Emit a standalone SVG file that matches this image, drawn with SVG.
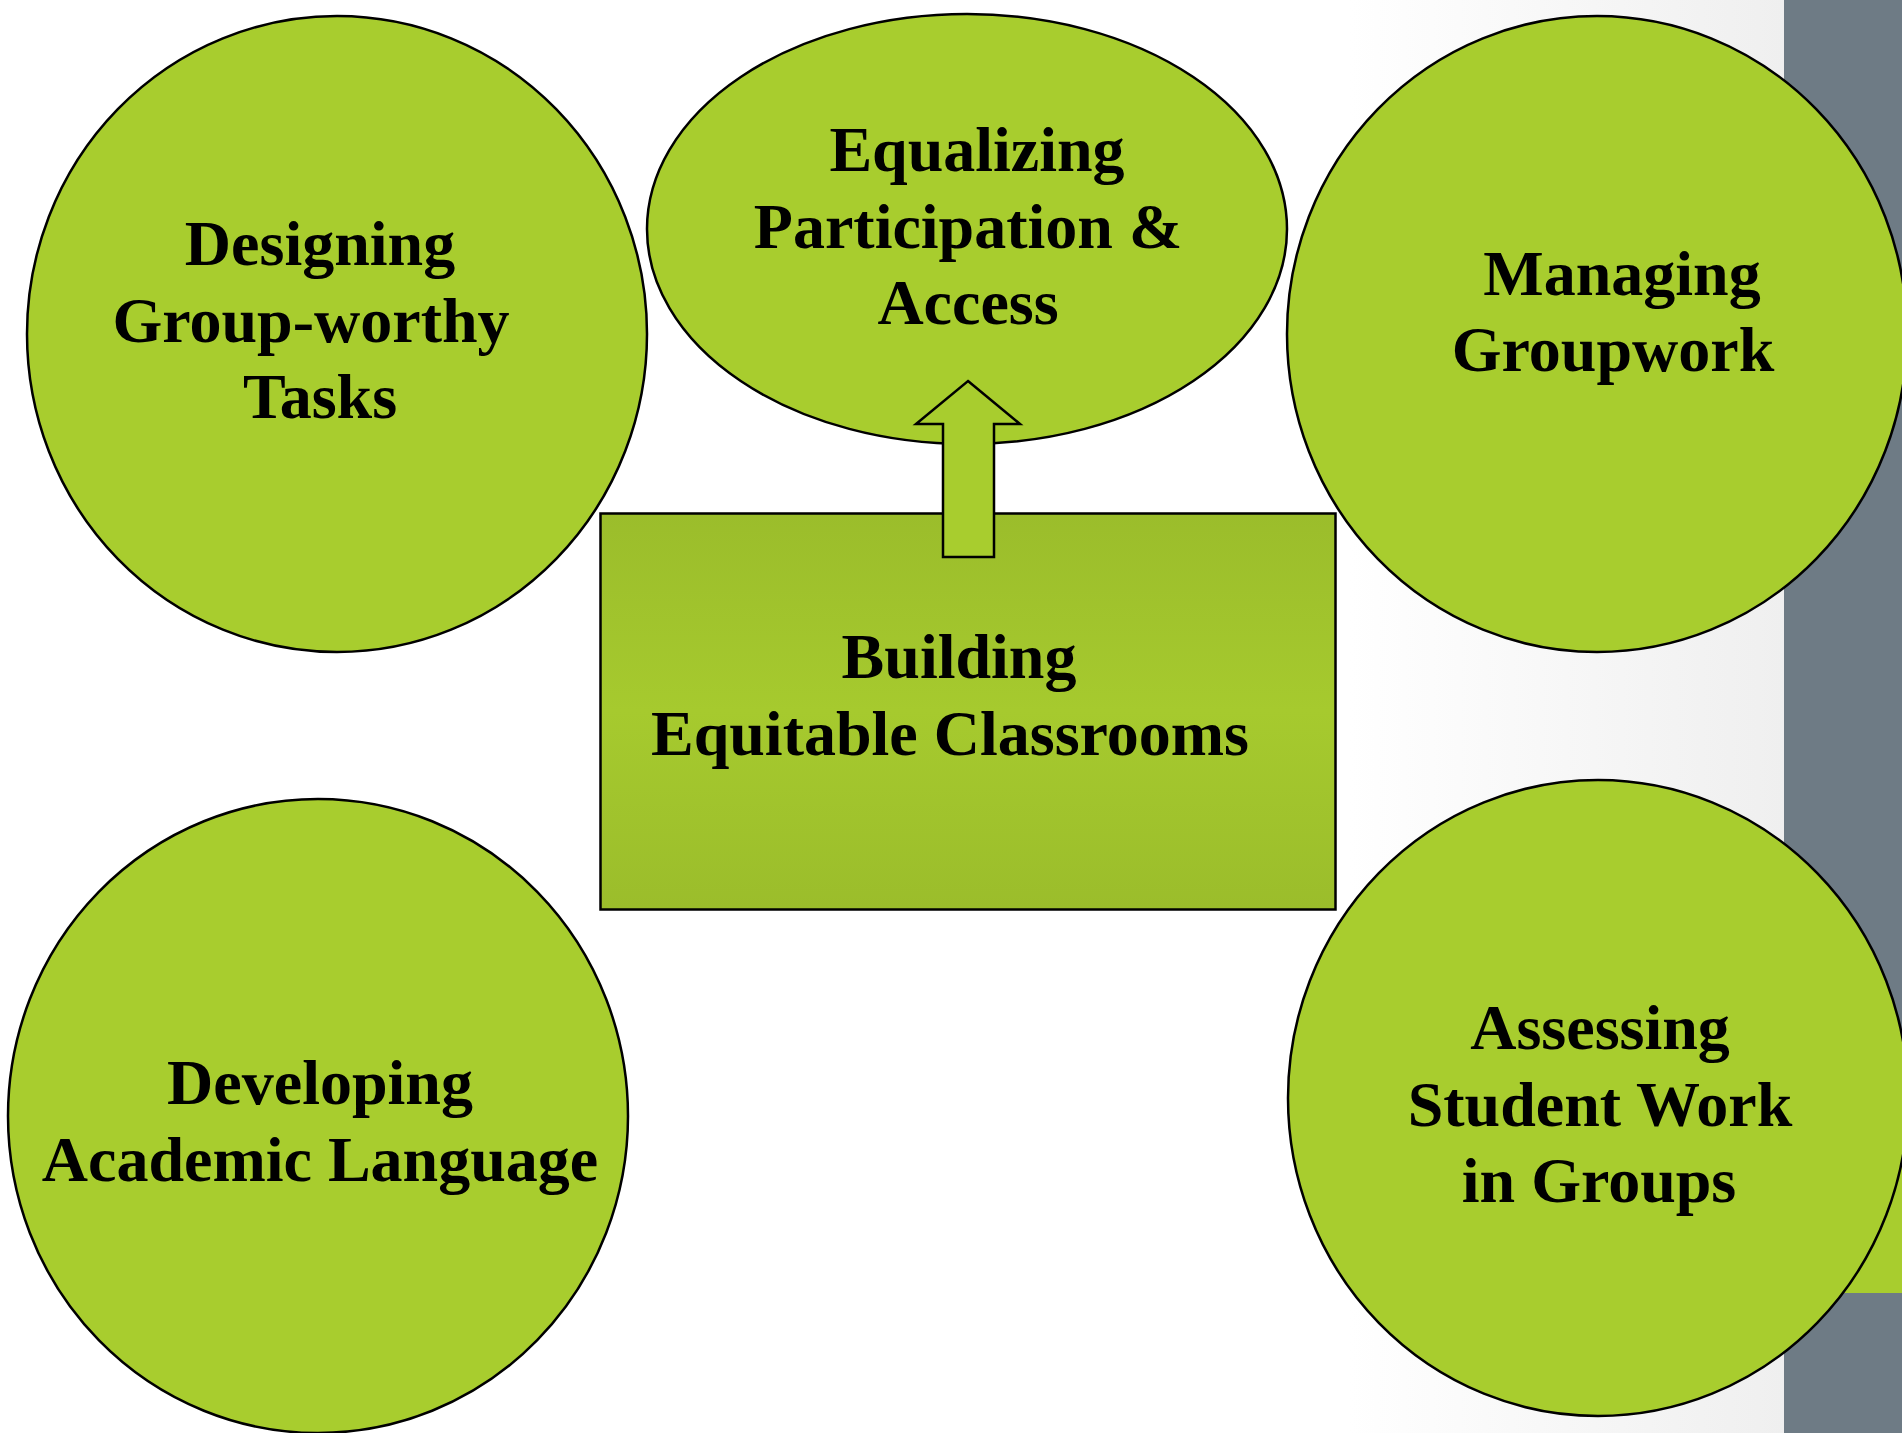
<svg xmlns="http://www.w3.org/2000/svg" width="1902" height="1433" viewBox="0 0 1902 1433">
<defs>
<style>
.node{fill:#a8cd2e;stroke:#000;stroke-width:2.5}
.lbl{font-family:"Liberation Serif","Times New Roman",serif;font-weight:bold;font-size:64px;fill:#000;text-anchor:middle}
</style>
<linearGradient id="bg" x1="1350" y1="0" x2="1784" y2="0" gradientUnits="userSpaceOnUse">
<stop offset="0" stop-color="#ffffff"/>
<stop offset="1" stop-color="#efefef"/>
</linearGradient>
<linearGradient id="rectg" x1="0" y1="0" x2="0" y2="1">
<stop offset="0" stop-color="#9bbd2b"/>
<stop offset="0.5" stop-color="#a6ca2e"/>
<stop offset="1" stop-color="#9bbd2b"/>
</linearGradient>
</defs>
<rect x="0" y="0" width="1902" height="1433" fill="url(#bg)"/>
<rect x="1784" y="0" width="118" height="1433" fill="#6e7b85"/>
<rect x="1784" y="1100" width="118" height="193" fill="#a8cd2e"/>

<g id="designing">
<ellipse class="node" cx="337" cy="334" rx="310" ry="318"/>
<text class="lbl"><tspan x="320" y="265">Designing</tspan><tspan x="311" y="342">Group-worthy</tspan><tspan x="320" y="418">Tasks</tspan></text>
</g>
<g id="equalizing">
<ellipse class="node" cx="967" cy="229" rx="320" ry="215"/>
<text class="lbl"><tspan x="977" y="171">Equalizing</tspan><tspan x="968" y="248">Participation &amp;</tspan><tspan x="968" y="324">Access</tspan></text>
</g>
<g id="managing">
<ellipse class="node" cx="1597" cy="334" rx="310" ry="318"/>
<text class="lbl"><tspan x="1622" y="295">Managing</tspan><tspan x="1613" y="371">Groupwork</tspan></text>
</g>
<g id="developing">
<ellipse class="node" cx="318" cy="1116" rx="310" ry="317"/>
<text class="lbl"><tspan x="320" y="1104">Developing</tspan><tspan x="320" y="1181">Academic Language</tspan></text>
</g>
<g id="assessing">
<ellipse class="node" cx="1598" cy="1098" rx="310" ry="318"/>
<text class="lbl"><tspan x="1600" y="1049">Assessing</tspan><tspan x="1600" y="1126">Student Work</tspan><tspan x="1599" y="1202">in Groups</tspan></text>
</g>
<g id="building">
<rect x="600.5" y="513.5" width="735" height="396" fill="url(#rectg)" stroke="#000" stroke-width="2.5"/>
<text class="lbl"><tspan x="959" y="678">Building</tspan><tspan x="950" y="755">Equitable Classrooms</tspan></text>
</g>
<g id="connectors">
<polygon points="968,381 1020,424 994,424 994,557 943,557 943,424 916,424" fill="#a8cd2e" stroke="#000" stroke-width="2.5" stroke-linejoin="miter"/>
</g>
</svg>
